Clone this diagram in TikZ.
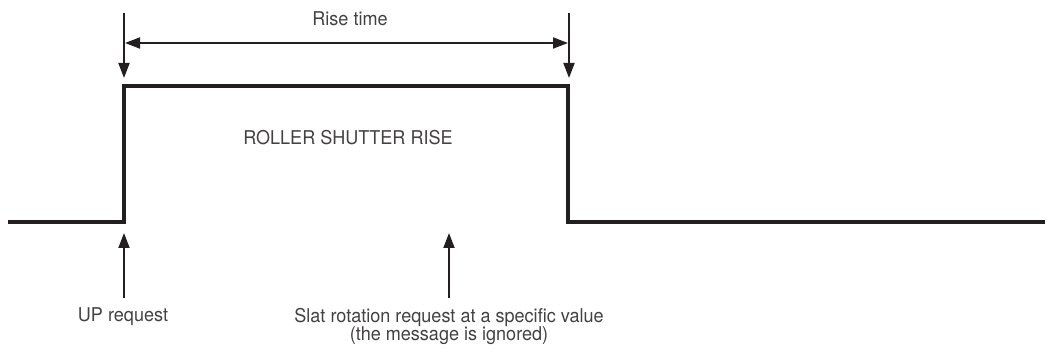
\documentclass[tikz,border=0pt]{standalone}
\usepackage{fontspec}
\setmainfont{TeX Gyre Heros}[FakeStretch=0.95]
\usetikzlibrary{arrows.meta}
\definecolor{ink}{HTML}{231F20}
\tikzset{
  signal/.style={line width=4pt, draw=ink, line join=miter},
  arr/.style={line width=1.8pt, draw=ink, -{Triangle[length=15pt,width=11pt]}},
  dimarr/.style={line width=1.8pt, draw=ink, {Triangle[length=15pt,width=11pt]}-{Triangle[length=15pt,width=11pt]}},
  lbl/.style={font=\fontsize{19pt}{19pt}\selectfont, text=ink!85, inner sep=0pt, anchor=base}
}
\begin{document}
\begin{tikzpicture}[x=1pt,y=-1pt]
\useasboundingbox (0,0) rectangle (1053,358);
% signal
\coordinate (s0) at (8,222);
\coordinate (s1) at (124,222);
\coordinate (s2) at (124,86);
\coordinate (s3) at (568,86);
\coordinate (s4) at (568,222);
\coordinate (s5) at (1045,222);
\draw[signal] (s0) -- (s1) -- (s2) -- (s3) -- (s4) -- (s5);
% top markers
\coordinate (t1a) at (124,13);
\coordinate (t1b) at (124,78);
\coordinate (t2a) at (569,13);
\coordinate (t2b) at (569,78);
\draw[arr] (t1a) -- (t1b);
\draw[arr] (t2a) -- (t2b);
\coordinate (h1) at (125,43);
\coordinate (h2) at (568,43);
\draw[dimarr] (h1) -- (h2);
\node[lbl] (rise) at (350,26) {Rise time};
\node[lbl] (roller) at (348,145) {ROLLER SHUTTER RISE};
% bottom requests
\coordinate (u1) at (124,298);
\coordinate (u2) at (124,233);
\coordinate (v1) at (449,298);
\coordinate (v2) at (449,233);
\draw[arr] (u1) -- (u2);
\draw[arr] (v1) -- (v2);
\node[lbl] (up) at (123,322) {UP request};
\node[lbl] (slat1) at (449,323) {Slat rotation request at a specific value};
\node[lbl] (slat2) at (449,341) {(the message is ignored)};
\end{tikzpicture}
\end{document}
